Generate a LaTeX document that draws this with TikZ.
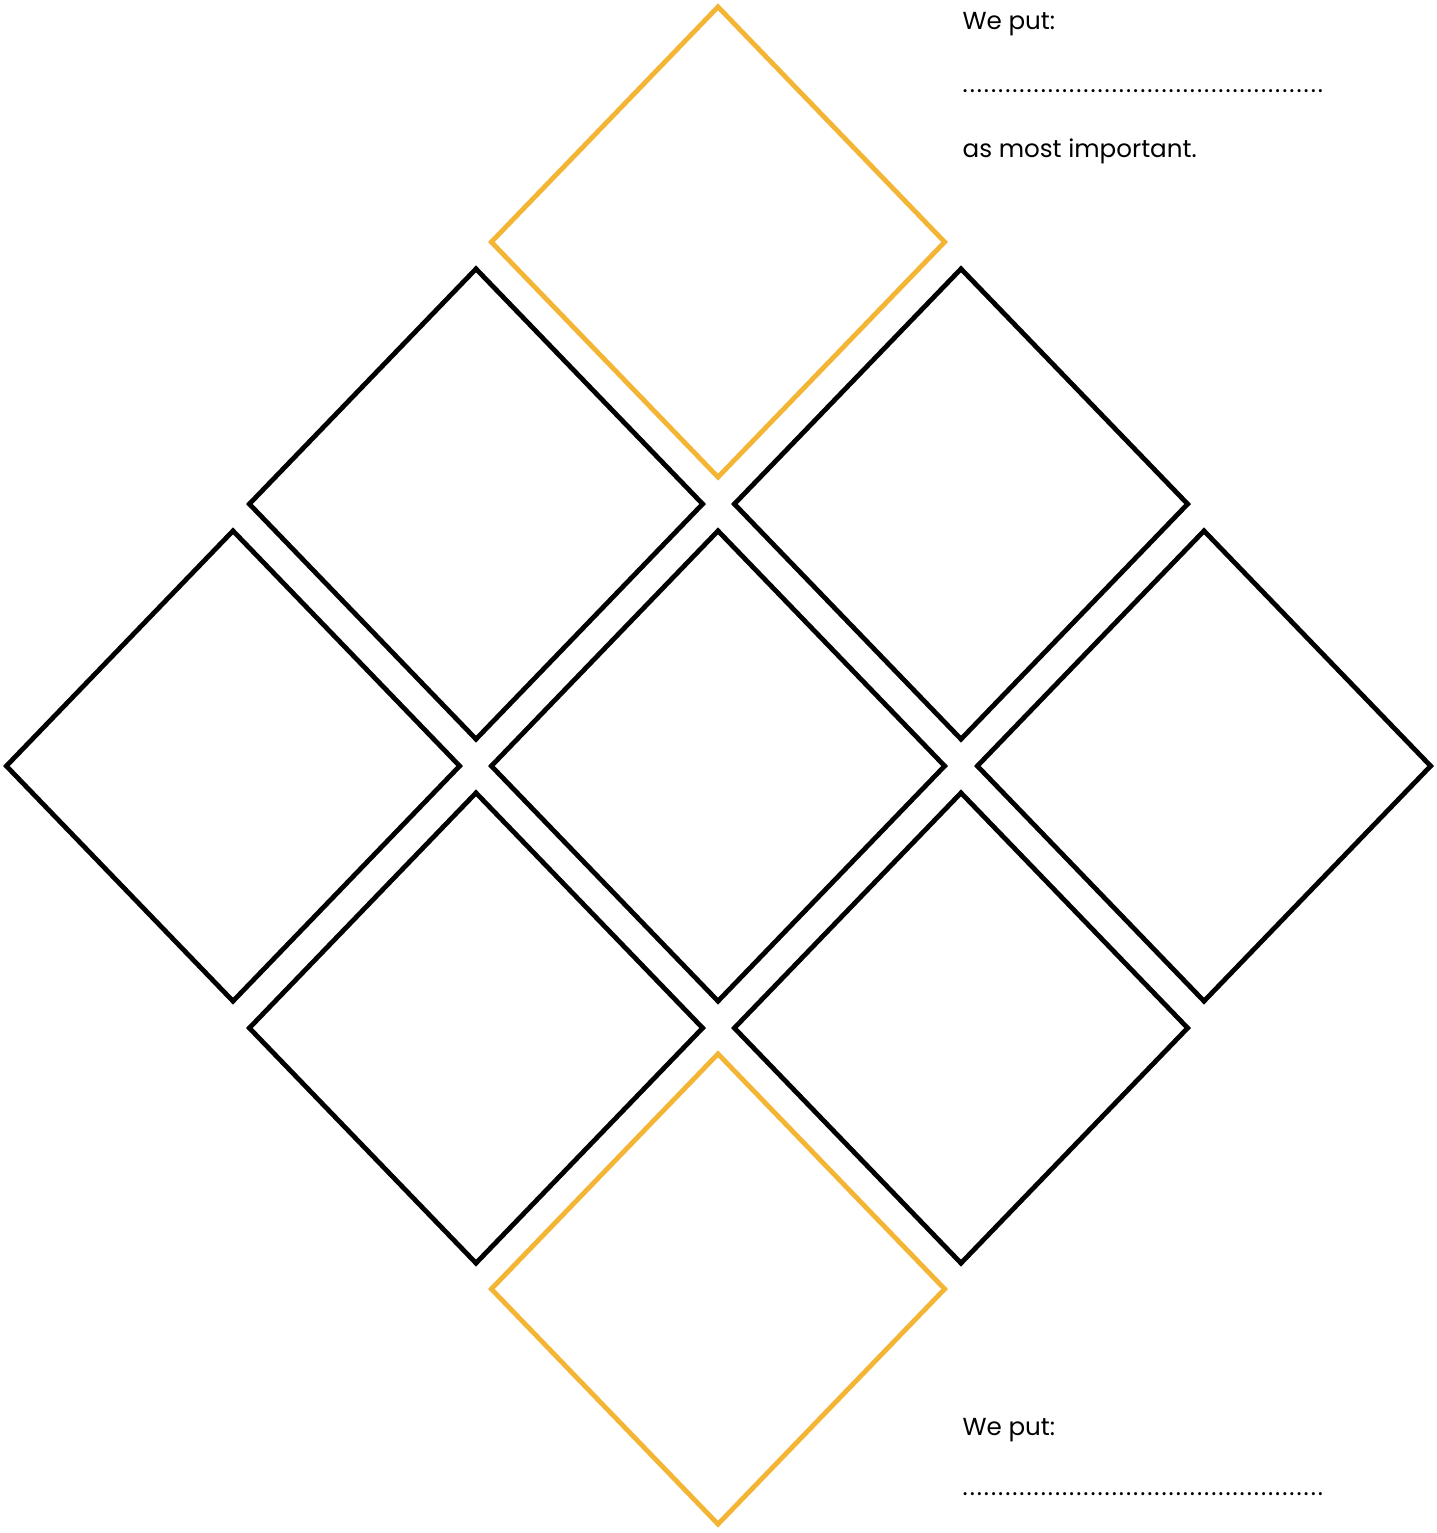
\documentclass[tikz,border=0pt]{standalone}
\usepackage{fontspec}
\setmainfont{Poppins}
\usepackage{xcolor}
\usepackage{tikz}
\usetikzlibrary{shapes.geometric}
\definecolor{rankgold}{HTML}{F4B434}
\newcommand{\dotrow}{\foreach \i in {1,...,51}{\makebox[0.071cm]{.}}}

\begin{document}
\begin{tikzpicture}[x=0.01cm,y=-0.01cm,
  rankbox/.style={draw=#1,diamond,line width=0.048cm,inner sep=0pt,
                  minimum width=4.55cm,minimum height=4.72cm},rankbox/.default=black,
  note/.style={anchor=base west,inner sep=0pt,font=\fontsize{7}{9}\selectfont}]
  \useasboundingbox (0,0) rectangle (1437,1533);
  \node[rankbox=rankgold] (d1) at (718,242) {};
  \node[rankbox] (d2l) at (476,504) {};
  \node[rankbox] (d2r) at (961,504) {};
  \node[rankbox] (d3l) at (233,766) {};
  \node[rankbox] (d3m) at (718,766) {};
  \node[rankbox] (d3r) at (1204,766) {};
  \node[rankbox] (d4l) at (476,1028) {};
  \node[rankbox] (d4r) at (961,1028) {};
  \node[rankbox=rankgold] (d5) at (718,1289) {};
  % notes beside the top and the bottom
  \node[note] (topput) at (962,30) {We put:};
  \node[note] (topdots) at (961,92) {\dotrow};
  \node[note] (toptail) at (962,157) {as most important.};
  \node[note] (botput) at (962,1435) {We put:};
  \node[note] (botdots) at (961,1495) {\dotrow};
\end{tikzpicture}
\end{document}
